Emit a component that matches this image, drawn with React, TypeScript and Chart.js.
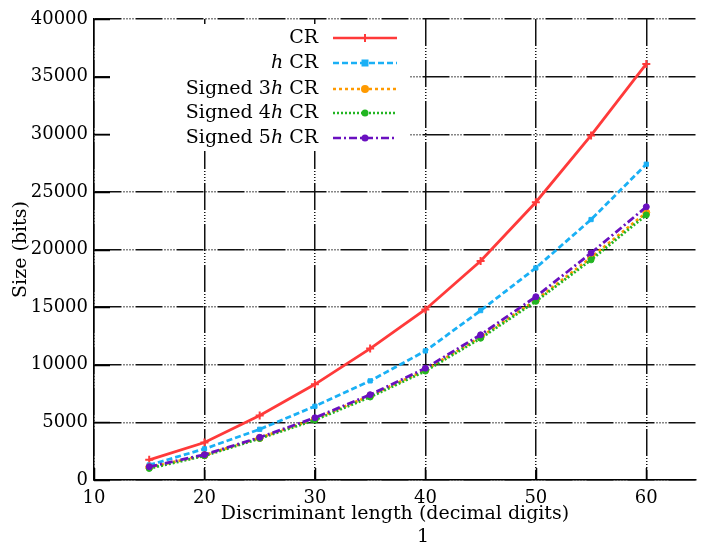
import React, { useEffect, useRef } from "react";
import { Chart, registerables } from "chart.js";

Chart.register(...registerables);

const xValues = [15, 20, 25, 30, 35, 40, 45, 50, 55, 60];
const crValues = [1750, 3250, 5600, 8300, 11400, 14800, 19000, 24100, 29900, 36100];
const hCrValues = [1300, 2700, 4400, 6400, 8600, 11200, 14700, 18400, 22600, 27400];
const signed3hValues = [1100, 2150, 3650, 5300, 7300, 9550, 12400, 15600, 19300, 23200];
const signed4hValues = [1000, 2100, 3600, 5200, 7200, 9450, 12300, 15500, 19100, 23000];
const signed5hValues = [1150, 2200, 3700, 5400, 7400, 9700, 12600, 15900, 19700, 23700];
const seriesNames = ["CR", "h CR", "Signed 3h CR", "Signed 4h CR", "Signed 5h CR"];
const xTitle = "Discriminant length (decimal digits)";
const yTitle = "Size (bits)";

const FONT = "'DejaVu Serif', serif";

const styles = [
  { color: "#ff3a3a", dash: [] as number[], point: "cross", radius: 4 },
  { color: "#1ab0f5", dash: [6, 3], point: "rect", radius: 3 },
  { color: "#ff9a00", dash: [3, 3], point: "circle", radius: 3.5 },
  { color: "#22b522", dash: [2, 2], point: "circle", radius: 3 },
  { color: "#6a10c0", dash: [8, 3, 2, 3], point: "circle", radius: 3 },
];

const allValues = [crValues, hCrValues, signed3hValues, signed4hValues, signed5hValues];

const overlay = {
  id: "overlay",
  beforeDraw(chart: any) {
    const ctx = chart.ctx;
    ctx.save();
    ctx.fillStyle = "#fff";
    ctx.fillRect(0, 0, chart.width, chart.height);
    ctx.restore();
  },
  afterDatasetsDraw(chart: any) {
    const ctx = chart.ctx;
    const { left, top, bottom } = chart.chartArea;
    ctx.save();
    // legend box
    ctx.fillStyle = "#fff";
    ctx.fillRect(left + 16, top + 5, 300, 127);
    // inward tick marks
    ctx.strokeStyle = "#000";
    ctx.lineWidth = 1.5;
    ctx.setLineDash([]);
    const ys = chart.scales.y;
    ys.ticks.forEach((t: any) => {
      const py = Math.round(ys.getPixelForValue(t.value)) + 0.5;
      ctx.beginPath();
      ctx.moveTo(left, py);
      ctx.lineTo(left + 16, py);
      ctx.stroke();
    });
    const xs = chart.scales.x;
    xs.ticks.forEach((t: any) => {
      const px = Math.round(xs.getPixelForValue(t.value)) + 0.5;
      ctx.beginPath();
      ctx.moveTo(px, bottom);
      ctx.lineTo(px, bottom - 12);
      ctx.stroke();
    });
    // legend entries
    const textRight = 318;
    const lineX0 = 333;
    const lineX1 = 397;
    const rowsY = [38, 63, 89, 113, 138];
    ctx.textBaseline = "middle";
    seriesNames.forEach((name, i) => {
      const y = rowsY[i];
      const m = name.match(/^(.*?)(h)( CR)$/);
      let parts: { t: string; it: boolean }[];
      if (m) {
        parts = [
          { t: m[1], it: false },
          { t: m[2], it: true },
          { t: m[3], it: false },
        ];
      } else parts = [{ t: name, it: false }];
      const fontFor = (it: boolean) => `${it ? "italic " : ""}19px ${FONT}`;
      let total = 0;
      parts.forEach((p) => {
        ctx.font = fontFor(p.it);
        total += ctx.measureText(p.t).width;
      });
      let x = textRight - total;
      ctx.fillStyle = "#000";
      ctx.textAlign = "left";
      parts.forEach((p) => {
        ctx.font = fontFor(p.it);
        ctx.fillText(p.t, x, y);
        x += ctx.measureText(p.t).width;
      });
      const st = styles[i];
      ctx.strokeStyle = st.color;
      ctx.lineWidth = 2.5;
      ctx.setLineDash(st.dash);
      ctx.beginPath();
      ctx.moveTo(lineX0, y);
      ctx.lineTo(lineX1, y);
      ctx.stroke();
      ctx.setLineDash([]);
      const mx = (lineX0 + lineX1) / 2;
      ctx.fillStyle = st.color;
      if (st.point === "cross") {
        ctx.lineWidth = 2;
        ctx.beginPath();
        ctx.moveTo(mx, y - 4);
        ctx.lineTo(mx, y + 4);
        ctx.stroke();
      } else if (st.point === "rect") {
        ctx.fillRect(mx - 3.5, y - 3.5, 7, 7);
      } else {
        ctx.beginPath();
        ctx.arc(mx, y, st.radius + 0.5, 0, Math.PI * 2);
        ctx.fill();
      }
    });
    // stray page-number text
    ctx.fillStyle = "#000";
    ctx.font = `19px ${FONT}`;
    ctx.textAlign = "center";
    ctx.textBaseline = "middle";
    ctx.fillText("1", 423, 537);
    ctx.restore();
  },
};

export default function App() {
  const ref = useRef<HTMLCanvasElement>(null);
  useEffect(() => {
    if (!ref.current) return;
    const gridDash = [27, 2, 1, 2, 1, 2, 1, 2, 1, 2];
    const chart = new Chart(ref.current, {
      type: "line",
      data: {
        datasets: allValues.map((vals, i) => ({
          label: seriesNames[i],
          data: vals.map((v, k) => ({ x: xValues[k], y: v })),
          borderColor: styles[i].color,
          backgroundColor: styles[i].color,
          borderDash: styles[i].dash,
          borderWidth: 2.8,
          pointStyle: styles[i].point as any,
          pointRadius: styles[i].radius,
          pointBorderWidth: i === 0 ? 2 : 1,
          pointBorderColor: styles[i].color,
          tension: 0,
          fill: false,
          order: 4 - i,
        })),
      },
      options: {
        responsive: false,
        animation: false,
        layout: { padding: { top: 19, left: 0, right: -6, bottom: 0 } },
        plugins: { legend: { display: false }, tooltip: { enabled: false } },
        scales: {
          x: {
            type: "linear",
            min: 10,
            max: 64.5,
            ticks: {
              stepSize: 10,
              includeBounds: false,
              color: "#000",
              font: { family: FONT, size: 18 },
              padding: 8,
              maxRotation: 0,
              callback: (v: any) => String(v),
            },
            grid: {
              color: "#111",
              lineWidth: 1.5,
              drawTicks: false,
            },
            border: { display: true, color: "#000", width: 1.5, dash: gridDash },
            title: {
              display: true,
              text: xTitle,
              color: "#000",
              font: { family: FONT, size: 19 },
              padding: { top: 0, bottom: 20 },
            },
            afterFit: (s: any) => {
              s.height = 65;
            },
          } as any,
          y: {
            type: "linear",
            min: 0,
            max: 40000,
            ticks: {
              stepSize: 5000,
              color: "#000",
              font: { family: FONT, size: 18 },
              padding: 6,
              callback: (v: any) => String(v),
            },
            grid: {
              color: "#111",
              lineWidth: 1.5,
              drawTicks: false,
            },
            border: { display: true, color: "#000", width: 1.5, dash: gridDash },
            title: {
              display: true,
              text: yTitle,
              color: "#000",
              font: { family: FONT, size: 19 },
              padding: { top: 10, bottom: 0 },
            },
            afterFit: (s: any) => {
              s.width = 94;
            },
          } as any,
        },
      },
      plugins: [overlay],
    });
    return () => chart.destroy();
  }, []);
  return (
    <div style={{ position: "fixed", left: 0, top: 0, width: 702, height: 545, background: "#fff" }}>
      <canvas ref={ref} width={702} height={545} />
    </div>
  );
}
